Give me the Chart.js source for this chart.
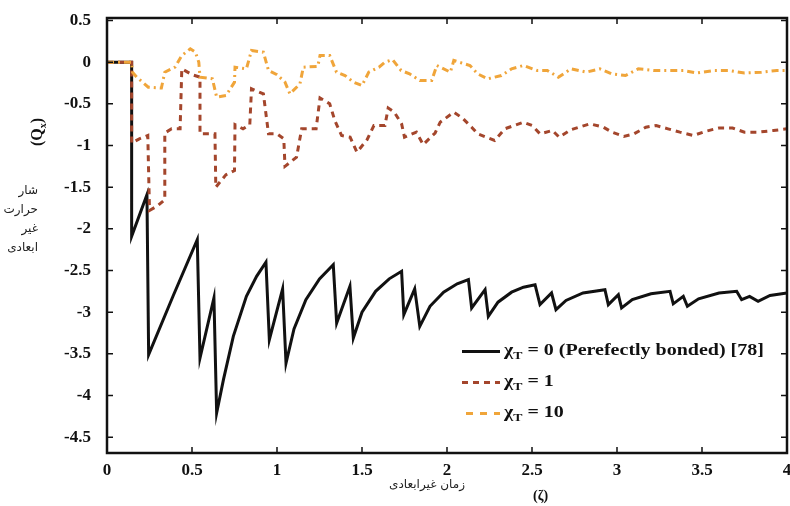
<!DOCTYPE html>
<html>
<head>
<meta charset="utf-8">
<script src="https://cdn.jsdelivr.net/npm/chart.js"></script>
<style>
  body { margin: 0; background: #fff; }
  #wrap { position: relative; width: 790px; height: 506px; overflow: hidden; }
  #fluxChart { position: absolute; left: 0; top: 0; }
  .serif { font-family: 'Liberation Serif', 'Times New Roman', serif; font-weight: bold; color: #111; }
  .fa { font-family: 'DejaVu Sans', sans-serif; color: #222; position: absolute; white-space: nowrap; }
  #yTitle { position: absolute; left: 38px; top: 132px; transform: translate(-50%, -50%) rotate(-90deg); font-size: 16px; white-space: nowrap; }
  #yTitleFa { left: 0; top: 181px; width: 38px; direction: rtl; text-align: right; font-size: 12px; line-height: 19px; }
  #xTitleFa { left: 367px; top: 477px; width: 120px; direction: rtl; text-align: center; font-size: 12px; }
  #xSym { position: absolute; left: 533px; top: 488px; font-size: 14px; }
  .leg { position: absolute; left: 462px; display: flex; align-items: center; font-size: 16px; white-space: nowrap; }
  .leg .smp { width: 38px; height: 3px; margin-right: 4px; }
  .leg .txt { display: inline-block; transform: scaleX(1.25); transform-origin: left center; }
  .leg sub { font-size: 11px; vertical-align: -4px; }
</style>
</head>
<body>
<div id="wrap">
  <canvas id="fluxChart" width="790" height="506"></canvas>
  <div id="yTitle" class="serif">(Q<sub style="font-size:10px">x</sub>)</div>
  <div id="yTitleFa" class="fa">شار<br>حرارت<br>غیر<br>ابعادی</div>
  <div id="xTitleFa" class="fa">زمان غیرابعادی</div>
  <div id="xSym" class="serif">(ζ)</div>
  <div class="leg serif" style="top:341px"><div class="smp" style="background:#111"></div><span class="txt">χ<sub>T</sub>&nbsp;= 0 (Perefectly bonded) [78]</span></div>
  <div class="leg serif" style="top:372px"><div class="smp" style="background:repeating-linear-gradient(90deg,#a4462c 0 6px,transparent 6px 11px)"></div><span class="txt">χ<sub>T</sub>&nbsp;= 1</span></div>
  <div class="leg serif" style="top:403px"><div class="smp" style="background:repeating-linear-gradient(90deg,transparent 0 4px,#f0a53a 4px 11px,transparent 11px 14px)"></div><span class="txt">χ<sub>T</sub>&nbsp;= 10</span></div>
</div>
<script>
// axis ticks
const xTicks = [0, 0.5, 1, 1.5, 2, 2.5, 3, 3.5, 4];
const yTicks = [0.5, 0, -0.5, -1, -1.5, -2, -2.5, -3, -3.5, -4, -4.5];

// chi_T = 0 (perfectly bonded)
const timeBonded = [0, 0.145, 0.145, 0.235, 0.245, 0.39, 0.531, 0.547, 0.629, 0.645, 0.685, 0.743, 0.82, 0.88, 0.935,
  0.955, 1.033, 1.053, 1.10, 1.17, 1.25, 1.331, 1.351, 1.429, 1.449, 1.50, 1.58, 1.66, 1.733, 1.746, 1.81, 1.84,
  1.90, 1.98, 2.06, 2.126, 2.145, 2.224, 2.243, 2.30, 2.38, 2.45, 2.518, 2.547, 2.615, 2.641, 2.70, 2.80, 2.929,
  2.949, 3.008, 3.027, 3.09, 3.20, 3.312, 3.331, 3.39, 3.414, 3.48, 3.60, 3.704, 3.733, 3.78, 3.83, 3.90, 4.0];
const fluxBonded = [0, 0, -2.09, -1.59, -3.51, -2.80, -2.13, -3.55, -2.83, -4.21, -3.81, -3.29, -2.81, -2.57, -2.40,
  -3.33, -2.72, -3.61, -3.20, -2.85, -2.60, -2.43, -3.13, -2.69, -3.31, -3.00, -2.75, -2.60, -2.51, -3.03, -2.72, -3.17,
  -2.93, -2.76, -2.66, -2.61, -2.95, -2.73, -3.05, -2.88, -2.76, -2.70, -2.67, -2.91, -2.77, -2.97, -2.86, -2.77, -2.73,
  -2.91, -2.79, -2.95, -2.85, -2.78, -2.75, -2.90, -2.81, -2.93, -2.84, -2.77, -2.75, -2.85, -2.81, -2.87, -2.80, -2.77];

// chi_T = 1
const timeOne = [0, 0.145, 0.145, 0.19, 0.24, 0.25, 0.30, 0.34, 0.34, 0.38, 0.43, 0.44, 0.50, 0.547, 0.547, 0.60, 0.635,
  0.64, 0.70, 0.75, 0.753, 0.80, 0.84, 0.85, 0.92, 0.95, 1.0, 1.04, 1.047, 1.115, 1.145, 1.23, 1.253, 1.31, 1.34, 1.38,
  1.43, 1.47, 1.53, 1.57, 1.635, 1.654, 1.69, 1.733, 1.75, 1.82, 1.86, 1.93, 1.96, 2.04, 2.09, 2.145, 2.18, 2.28, 2.34,
  2.45, 2.50, 2.547, 2.62, 2.66, 2.73, 2.84, 2.92, 2.97, 3.04, 3.10, 3.17, 3.23, 3.30, 3.37, 3.45, 3.52, 3.60, 3.68,
  3.75, 3.83, 3.92, 4.0];
const fluxOne = [0, 0, -0.97, -0.92, -0.88, -1.78, -1.72, -1.65, -0.85, -0.80, -0.80, -0.08, -0.15, -0.18, -0.86, -0.86,
  -0.86, -1.50, -1.35, -1.30, -0.75, -0.80, -0.75, -0.32, -0.38, -0.86, -0.86, -0.92, -1.25, -1.14, -0.80, -0.80, -0.43,
  -0.50, -0.70, -0.88, -0.90, -1.08, -0.93, -0.76, -0.76, -0.55, -0.60, -0.74, -0.90, -0.84, -0.99, -0.85, -0.72, -0.60,
  -0.67, -0.78, -0.86, -0.94, -0.80, -0.72, -0.76, -0.86, -0.82, -0.90, -0.81, -0.74, -0.78, -0.84, -0.89, -0.86, -0.78,
  -0.76, -0.80, -0.84, -0.88, -0.83, -0.79, -0.79, -0.84, -0.84, -0.82, -0.80];

// chi_T = 10
const timeTen = [0, 0.145, 0.15, 0.175, 0.243, 0.32, 0.34, 0.40, 0.44, 0.49, 0.52, 0.54, 0.547, 0.62, 0.645, 0.70, 0.75,
  0.753, 0.82, 0.85, 0.92, 0.95, 1.0, 1.047, 1.076, 1.135, 1.155, 1.24, 1.253, 1.31, 1.35, 1.40, 1.45, 1.50, 1.54, 1.60,
  1.635, 1.68, 1.73, 1.78, 1.84, 1.91, 1.94, 2.02, 2.04, 2.135, 2.18, 2.24, 2.32, 2.38, 2.45, 2.53, 2.59, 2.655, 2.73,
  2.82, 2.90, 2.97, 3.05, 3.125, 3.22, 3.30, 3.39, 3.47, 3.57, 3.66, 3.75, 3.85, 3.94, 4.0];
const fluxTen = [0, 0, -0.12, -0.18, -0.30, -0.31, -0.12, -0.06, 0.08, 0.16, 0.12, 0.0, -0.18, -0.20, -0.42, -0.40, -0.24,
  -0.06, -0.08, 0.14, 0.12, -0.10, -0.15, -0.24, -0.38, -0.26, -0.06, -0.05, 0.08, 0.08, -0.12, -0.16, -0.24, -0.28, -0.12,
  -0.06, 0.0, 0.03, -0.10, -0.14, -0.22, -0.22, -0.04, -0.12, 0.02, -0.04, -0.14, -0.20, -0.16, -0.08, -0.04, -0.10, -0.10,
  -0.18, -0.08, -0.12, -0.08, -0.14, -0.16, -0.08, -0.10, -0.10, -0.10, -0.13, -0.10, -0.10, -0.13, -0.12, -0.10, -0.10];

const toPoints = (xs, ys) => xs.map((t, i) => ({ x: t, y: ys[i] }));

// box around the plot with inward tick marks on all four sides
const frameAndTicks = {
  id: 'frameAndTicks',
  afterDatasetsDraw(chart) {
    const { ctx, chartArea: a, scales: { x, y } } = chart;
    ctx.save();
    ctx.strokeStyle = '#111';
    ctx.lineWidth = 1.5;
    ctx.beginPath();
    xTicks.forEach(v => {
      const px = x.getPixelForValue(v);
      ctx.moveTo(px, a.bottom); ctx.lineTo(px, a.bottom - 6);
      ctx.moveTo(px, a.top); ctx.lineTo(px, a.top + 6);
    });
    yTicks.forEach(v => {
      const py = y.getPixelForValue(v);
      ctx.moveTo(a.left, py); ctx.lineTo(a.left + 6, py);
      ctx.moveTo(a.right, py); ctx.lineTo(a.right - 6, py);
    });
    ctx.stroke();
    ctx.lineWidth = 2.5;
    ctx.strokeRect(a.left, a.top, a.width, a.height);
    ctx.restore();
  }
};

const tickFont = { family: "'Liberation Serif', serif", size: 17, weight: 'bold' };

new Chart(document.getElementById('fluxChart'), {
  type: 'line',
  data: {
    datasets: [
      {
        label: 'χT = 0 (Perefectly bonded) [78]',
        data: toPoints(timeBonded, fluxBonded),
        borderColor: '#111', borderWidth: 3, order: 3
      },
      {
        label: 'χT = 1',
        data: toPoints(timeOne, fluxOne),
        borderColor: '#a4462c', borderWidth: 3, borderDash: [6, 5], order: 2
      },
      {
        label: 'χT = 10',
        data: toPoints(timeTen, fluxTen),
        borderColor: '#f0a53a', borderWidth: 3, borderDash: [7, 4, 2, 4], order: 1
      }
    ]
  },
  options: {
    responsive: false,
    animation: false,
    layout: { padding: { top: 18, right: 3, left: 0, bottom: 0 } },
    elements: { point: { radius: 0 }, line: { tension: 0, borderCapStyle: 'butt' } },
    plugins: { legend: { display: false }, tooltip: { enabled: false } },
    scales: {
      x: {
        type: 'linear', min: 0, max: 4,
        grid: { display: false }, border: { display: false },
        afterBuildTicks: s => { s.ticks = xTicks.map(v => ({ value: v })); },
        afterFit: s => { s.height = 53; s.paddingLeft = 0; s.paddingRight = 0; },
        ticks: { font: tickFont, color: '#111', padding: -1, maxRotation: 0, autoSkip: false, callback: v => String(v) }
      },
      y: {
        type: 'linear', min: -4.69, max: 0.53,
        grid: { display: false }, border: { display: false },
        afterBuildTicks: s => { s.ticks = yTicks.map(v => ({ value: v })); },
        afterFit: s => { s.width = 107; s.paddingTop = 0; s.paddingBottom = 0; },
        ticks: { font: tickFont, color: '#111', padding: 8, autoSkip: false, callback: v => String(v) }
      }
    }
  },
  plugins: [frameAndTicks]
});
</script>
</body>
</html>
